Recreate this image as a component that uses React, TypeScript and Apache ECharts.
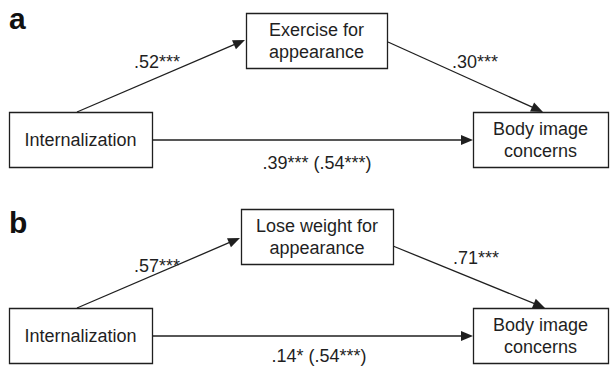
import React, { useEffect, useRef } from "react";
import * as echarts from "echarts";

// ---- data ----
const panelLetters = ["a", "b"];
const predictorLabels = ["Internalization", "Internalization"];
const mediatorLabels = ["Exercise for\nappearance", "Lose weight for\nappearance"];
const outcomeLabels = ["Body image\nconcerns", "Body image\nconcerns"];
const aPathLabels = [".52***", ".57***"];
const bPathLabels = [".30***", ".71***"];
const cPathLabels = [".39*** (.54***)", ".14* (.54***)"];

// ---- layout (data space: x 0..610, y 0..372 downward) ----
const PANEL_OFFSET = [0, 196];
const LETTER_MID = [18, 222];
const PRED_BOX = [9, 112, 152, 167];
const MED_BOX = [
  [246, 13, 387, 68],
  [241, 13, 393, 68],
];
const OUT_BOX = [473, 112, 608, 167];
const A_PATH = [
  [77, 112, 245, 40],
  [77, 112, 240, 42],
];
const B_PATH = [
  [388, 42, 543, 112],
  [393, 50, 545, 112],
];
const C_PATH = [152, 140, 473, 140];
const A_LABEL = [
  [180, 62],
  [180, 70],
];
const B_LABEL = [
  [452, 62],
  [453, 62],
];
const C_LABEL = [
  [317, 163],
  [319, 160],
];

const FONT = "'Liberation Sans', Arial, Helvetica, sans-serif";
const INK = "#1f1f1f";

export default function App() {
  const ref = useRef<HTMLDivElement>(null);

  useEffect(() => {
    document.body.style.margin = "0";
    const chart = echarts.init(ref.current!, null, { renderer: "svg" });

    const renderItem = (params: any, api: any) => {
      const i = params.dataIndex;
      const off = PANEL_OFFSET[i];
      const c = (x: number, y: number) => api.coord([x, y + off]);
      const children: any[] = [];

      const box = (b: number[], label: string) => {
        const p0 = c(b[0], b[1]);
        const p1 = c(b[2], b[3]);
        children.push({
          type: "rect",
          shape: {
            x: Math.round(p0[0]) + 0.5,
            y: Math.round(p0[1]) + 0.5,
            width: Math.round(p1[0] - p0[0]),
            height: Math.round(p1[1] - p0[1]),
          },
          style: { fill: "#fff", stroke: INK, lineWidth: 1.3 },
        });
        children.push({
          type: "text",
          style: {
            text: label,
            x: (p0[0] + p1[0]) / 2,
            y: (p0[1] + p1[1]) / 2,
            align: "center",
            verticalAlign: "middle",
            fontSize: 18,
            lineHeight: 22,
            fontFamily: FONT,
            fill: INK,
          },
        });
      };

      const arrow = (s: number[]) => {
        const p0 = c(s[0], s[1]);
        const p1 = c(s[2], s[3]);
        const dx = p1[0] - p0[0];
        const dy = p1[1] - p0[1];
        const len = Math.sqrt(dx * dx + dy * dy);
        const ux = dx / len;
        const uy = dy / len;
        const L = 12;
        const W = 5;
        const bx = p1[0] - ux * L;
        const by = p1[1] - uy * L;
        children.push({
          type: "line",
          shape: { x1: p0[0], y1: p0[1], x2: bx + ux * 2, y2: by + uy * 2 },
          style: { stroke: INK, lineWidth: 1.3 },
        });
        children.push({
          type: "polygon",
          shape: {
            points: [
              [p1[0], p1[1]],
              [bx - uy * W, by + ux * W],
              [bx + uy * W, by - ux * W],
            ],
          },
          style: { fill: INK },
        });
      };

      const label = (pos: number[], text: string, align: string) => {
        const p = c(pos[0], pos[1]);
        children.push({
          type: "text",
          style: {
            text,
            x: p[0],
            y: p[1],
            align,
            verticalAlign: "middle",
            fontSize: 18,
            fontFamily: FONT,
            fill: INK,
          },
        });
      };

      arrow(A_PATH[i]);
      arrow(B_PATH[i]);
      arrow(C_PATH);
      box(PRED_BOX, predictorLabels[i]);
      box(MED_BOX[i], mediatorLabels[i]);
      box(OUT_BOX, outcomeLabels[i]);
      label(A_LABEL[i], aPathLabels[i], "right");
      label(B_LABEL[i], bPathLabels[i], "left");
      label(C_LABEL[i], cPathLabels[i], "center");

      const lp = api.coord([9, LETTER_MID[i]]);
      children.push({
        type: "text",
        style: {
          text: panelLetters[i],
          x: lp[0],
          y: lp[1],
          align: "left",
          verticalAlign: "middle",
          fontSize: 30,
          fontWeight: "bold",
          fontFamily: FONT,
          fill: "#111",
        },
      });

      return { type: "group", children };
    };

    chart.setOption({
      animation: false,
      backgroundColor: "#fff",
      grid: { left: 0, right: 0, top: 0, bottom: 0 },
      xAxis: { type: "value", min: 0, max: 610, show: false },
      yAxis: { type: "value", min: 0, max: 372, inverse: true, show: false },
      series: [
        {
          type: "custom",
          coordinateSystem: "cartesian2d",
          renderItem,
          data: panelLetters.map((_, i) => [i, PANEL_OFFSET[i]]),
          encode: { x: 0, y: 1 },
          clip: false,
          silent: true,
        },
      ],
    });

    return () => chart.dispose();
  }, []);

  return <div ref={ref} style={{ width: 610, height: 372 }} />;
}
